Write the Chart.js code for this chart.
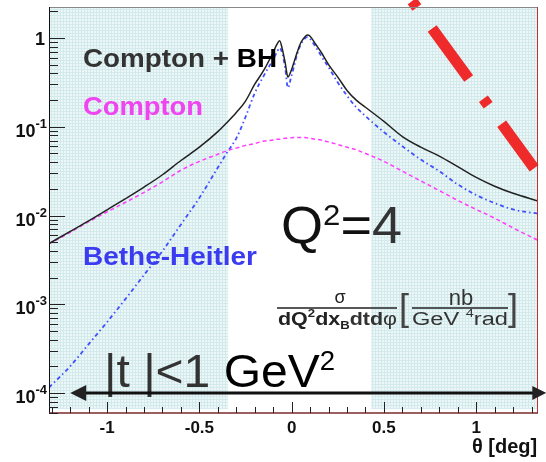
<!DOCTYPE html>
<html><head><meta charset="utf-8">
<script src="https://cdn.jsdelivr.net/npm/chart.js@4"></script>
<style>html,body{margin:0;padding:0;background:#fff}canvas{display:block}</style>
</head><body>
<canvas id="c" width="546" height="462"></canvas>
<script>
// ---- data ----
const thetas = [-1.315,-1.2,-1.1,-1.0,-0.9,-0.8,-0.7,-0.6,-0.5,-0.4,-0.35,-0.3,-0.25,-0.2,-0.15,-0.1,-0.08,-0.065,-0.05,-0.035,-0.02,-0.005,0.01,0.03,0.05,0.07,0.085,0.1,0.13,0.16,0.2,0.25,0.3,0.35,0.4,0.5,0.6,0.7,0.8,0.9,1.0,1.1,1.2,1.335];
const comptonBH = [0.00483,0.00661,0.00871,0.0116,0.0155,0.0209,0.0288,0.0417,0.0589,0.0881,0.112,0.145,0.195,0.302,0.437,0.692,0.851,0.933,0.741,0.525,0.363,0.417,0.513,0.692,0.891,1.023,1.081,1.047,0.851,0.692,0.501,0.363,0.257,0.200,0.166,0.115,0.0776,0.0589,0.0468,0.0355,0.0269,0.0214,0.0178,0.0146];
const compton = [0.00479,0.00646,0.00851,0.0110,0.0141,0.0182,0.0240,0.0324,0.0407,0.0490,0.0537,0.0575,0.0617,0.0646,0.0692,0.0708,0.0724,0.0724,0.0733,0.0741,0.0741,0.0750,0.0759,0.0759,0.0759,0.0759,0.0750,0.0741,0.0724,0.0708,0.0676,0.0631,0.0589,0.0550,0.0501,0.0407,0.0316,0.0245,0.0191,0.0148,0.0117,0.00933,0.00724,0.00525];
const betheHeitler = [0.000115,0.000200,0.000355,0.000631,0.00115,0.00214,0.00398,0.00794,0.0158,0.0347,0.0513,0.0741,0.129,0.240,0.380,0.575,0.692,0.776,0.661,0.457,0.275,0.347,0.457,0.661,0.851,0.977,1.023,0.977,0.794,0.631,0.468,0.316,0.224,0.166,0.132,0.0871,0.0603,0.0427,0.0316,0.0224,0.0170,0.0138,0.0117,0.0105];
const redTheta = [0.653, 1.314];
const redValue = [2.62, 0.034];
const xRange = [-1.315, 1.335];
const yRange = [5.94e-5, 2.24];
const shadeRanges = [[-1.315,-0.344],[0.431,1.335]];
const shadeBottom = 6.6e-5;
const arrowValue = 1e-4;
const arrowTheta = [-1.2, 1.38];
const xMajorTicks = [-1,-0.5,0,0.5,1];
const xTickLabels = ['-1','-0.5','0','0.5','1'];
const yMajorTicks = [1e-4,1e-3,1e-2,1e-1,1];
const yTickBase = ['10','10','10','10','1'];
const yTickExp = ['-4','-3','-2','-1',''];

const FONT = '"Liberation Sans", Arial, Helvetica, sans-serif';

// shade pattern
const pc = document.createElement('canvas'); pc.width = 3; pc.height = 3;
const pctx = pc.getContext('2d');
pctx.fillStyle = '#edf7f8'; pctx.fillRect(0,0,3,3);
pctx.fillStyle = '#d3eaec'; pctx.fillRect(0,0,3,1); pctx.fillRect(0,0,1,3);
const ctx0 = document.getElementById('c').getContext('2d');
const pattern = ctx0.createPattern(pc,'repeat');

function seqWidth(ctx, pieces){
  let w=0; for(const p of pieces){ctx.font=p.font; w+=ctx.measureText(p.t).width;} return w;
}
function drawSeq(ctx, pieces, x, base, target){
  const w = seqWidth(ctx,pieces);
  const s = target ? target/w : 1;
  ctx.save(); ctx.translate(x, base); ctx.scale(s,1);
  ctx.textBaseline='alphabetic'; ctx.textAlign='left';
  let cx=0;
  for(const p of pieces){ ctx.font=p.font; ctx.fillStyle=p.color||'#222'; ctx.fillText(p.t,cx,p.dy||0); cx+=ctx.measureText(p.t).width; }
  ctx.restore();
}

const decor = {
  id:'decor',
  beforeDatasetsDraw(chart){
    const {ctx, chartArea:a, scales:{x,y}} = chart;
    ctx.save();
    ctx.fillStyle = pattern;
    const yb = y.getPixelForValue(shadeBottom);
    for(const [lo,hi] of shadeRanges){
      const x0=x.getPixelForValue(lo), x1=x.getPixelForValue(hi);
      ctx.fillRect(x0,a.top,x1-x0,yb-a.top);
    }
    ctx.restore();
  },
  afterDatasetsDraw(chart){
    const {ctx, chartArea:a, scales:{x,y}} = chart;
    ctx.save();
    // frame
    ctx.lineWidth=1;
    ctx.strokeStyle='#888'; ctx.beginPath(); ctx.moveTo(a.left,a.top+0.5); ctx.lineTo(a.right,a.top+0.5); ctx.stroke();
    ctx.strokeStyle='#c03030'; ctx.beginPath(); ctx.moveTo(a.right-0.5,a.top); ctx.lineTo(a.right-0.5,a.bottom); ctx.stroke();
    ctx.strokeStyle='#111'; ctx.beginPath(); ctx.moveTo(a.left+0.5,a.top); ctx.lineTo(a.left+0.5,a.bottom); ctx.stroke();
    ctx.strokeStyle='#7a2a2a'; ctx.lineWidth=1.5; ctx.beginPath(); ctx.moveTo(a.left,a.bottom); ctx.lineTo(a.right,a.bottom); ctx.stroke();
    // y ticks
    ctx.lineWidth=1; ctx.strokeStyle='#222';
    for(let e=-5;e<=0;e++){
      for(let k=1;k<=9;k++){
        const v=k*Math.pow(10,e);
        if(v<yRange[0]||v>yRange[1]) continue;
        const py=Math.round(y.getPixelForValue(v))+0.5;
        const len = k===1?16:9;
        ctx.beginPath(); ctx.moveTo(a.left,py); ctx.lineTo(a.left+len,py); ctx.stroke();
      }
    }
    // x ticks
    for(let i=-13;i<=13;i++){
      const v=i/10; const px=Math.round(x.getPixelForValue(v))+0.5;
      const len = (i%5===0)?11:6;
      ctx.beginPath(); ctx.moveTo(px,a.bottom); ctx.lineTo(px,a.bottom-len); ctx.stroke();
    }
    // x labels
    ctx.fillStyle='#111'; ctx.font='bold 17px '+FONT; ctx.textAlign='center'; ctx.textBaseline='middle';
    xMajorTicks.forEach((v,i)=>{ ctx.fillText(xTickLabels[i], x.getPixelForValue(v), 428); });
    // y labels
    yMajorTicks.forEach((v,i)=>{
      const py=y.getPixelForValue(v);
      ctx.textBaseline='alphabetic'; ctx.textAlign='right';
      if(yTickExp[i]===''){ ctx.font='bold 18px '+FONT; ctx.fillText(yTickBase[i],45,py+7); }
      else {
        ctx.font='bold 13px '+FONT; const ew=ctx.measureText(yTickExp[i]).width;
        ctx.fillText(yTickExp[i],47,py+1);
        ctx.font='bold 18px '+FONT; ctx.fillText(yTickBase[i],47-ew,py+10);
      }
    });
    // axis title
    ctx.textAlign='left'; ctx.font='bold 20px '+FONT; ctx.fillStyle='#111';
    ctx.fillText('\u03B8 [deg]',472,453);

    // annotations
    drawSeq(ctx,[{t:'Compton + ',font:'bold 26px '+FONT,color:'#333'},{t:'BH',font:'bold 26px '+FONT,color:'#000'}],83,67,194);
    drawSeq(ctx,[{t:'Compton',font:'bold 26px '+FONT,color:'#f044f0'}],83,115,120);
    drawSeq(ctx,[{t:'Bethe-Heitler',font:'bold 26px '+FONT,color:'#3b3bef'}],83,265,174);
    drawSeq(ctx,[{t:'Q',font:'52px '+FONT,color:'#111'},{t:'2',font:'30px '+FONT,dy:-18,color:'#111'},{t:'=',font:'52px '+FONT,color:'#111'},{t:'4',font:'52px '+FONT,color:'#333'}],281,243,121);
    drawSeq(ctx,[{t:'|t |<1 ',font:'47px '+FONT,color:'#333'},{t:'GeV',font:'47px '+FONT,color:'#000'},{t:'2',font:'27px '+FONT,dy:-17,color:'#000'}],104,387,231);
    // fraction
    ctx.fillStyle='#222'; ctx.textAlign='center'; ctx.textBaseline='alphabetic';
    ctx.font='18px '+FONT; ctx.fillText('\u03C3',340,303);
    ctx.font='22px '+FONT; ctx.fillStyle='#333'; ctx.fillText('nb',461,305);
    ctx.strokeStyle='#222'; ctx.lineWidth=1.5;
    ctx.beginPath(); ctx.moveTo(277,308); ctx.lineTo(397,308); ctx.moveTo(412,308); ctx.lineTo(508,308); ctx.stroke();
    drawSeq(ctx,[{t:'dQ',font:'bold 18px '+FONT},{t:'2',font:'bold 11px '+FONT,dy:-8},{t:'dx',font:'bold 18px '+FONT},{t:'B',font:'bold 11px '+FONT,dy:4},{t:'dtd',font:'bold 18px '+FONT,color:'#333'},{t:'\u03C6',font:'18px '+FONT,color:'#333'}],278,325,119);
    drawSeq(ctx,[{t:'GeV ',font:'18px '+FONT,color:'#333'},{t:'4',font:'11px '+FONT,dy:-8,color:'#333'},{t:'rad',font:'18px '+FONT,color:'#333'}],412,325,96);
    ctx.textAlign='left'; ctx.font='36px '+FONT; ctx.fillStyle='#444';
    ctx.fillText('[',399,320); ctx.fillText(']',508,320);
    // arrow
    const ay=y.getPixelForValue(arrowValue);
    const ax0=x.getPixelForValue(arrowTheta[0]), ax1=x.getPixelForValue(arrowTheta[1]);
    ctx.strokeStyle='#111'; ctx.fillStyle='#222'; ctx.lineWidth=3;
    ctx.beginPath(); ctx.moveTo(ax0+10,ay); ctx.lineTo(ax1-10,ay); ctx.stroke();
    ctx.beginPath(); ctx.moveTo(ax0,ay); ctx.lineTo(ax0+16,ay-8); ctx.lineTo(ax0+16,ay+8); ctx.closePath(); ctx.fill();
    ctx.beginPath(); ctx.moveTo(ax1,ay); ctx.lineTo(ax1-14,ay-7); ctx.lineTo(ax1-14,ay+7); ctx.closePath(); ctx.fill();
    ctx.restore();
  }
};

const mk = vals => thetas.map((t,i)=>({x:t,y:vals[i]}));
new Chart(document.getElementById('c'), {
  type:'line',
  data:{ datasets:[
    {label:'Compton + BH', data:mk(comptonBH), borderColor:'#222', borderWidth:1.5, pointRadius:0, cubicInterpolationMode:'monotone'},
    {label:'Compton', data:mk(compton), borderColor:'#ff3cff', borderWidth:1.5, borderDash:[4,3], pointRadius:0, cubicInterpolationMode:'monotone'},
    {label:'Bethe-Heitler', data:mk(betheHeitler), borderColor:'#4050ff', borderWidth:1.8, borderDash:[4,3,1.5,3], pointRadius:0, cubicInterpolationMode:'monotone'},
    {label:'red', data:redTheta.map((t,i)=>({x:t,y:redValue[i]})), borderColor:'#ee2a2a', borderWidth:11, borderCapStyle:'butt', borderDash:[8,26,62,25,8,23,60,300], pointRadius:0, clip:false}
  ]},
  options:{
    responsive:false, animation:false, devicePixelRatio:1,
    layout:{padding:{left:49,right:8,top:7,bottom:49}},
    plugins:{legend:{display:false}, tooltip:{enabled:false}},
    scales:{
      x:{type:'linear', min:xRange[0], max:xRange[1], bounds:'data', display:false},
      y:{type:'logarithmic', min:yRange[0], max:yRange[1], bounds:'data', display:false}
    }
  },
  plugins:[decor]
});
</script></body></html>
